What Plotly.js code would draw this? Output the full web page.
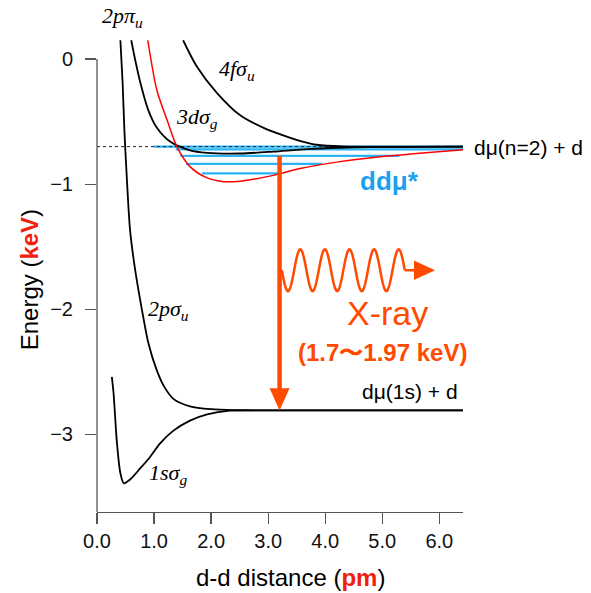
<!DOCTYPE html>
<html><head><meta charset="utf-8">
<script src="https://cdn.plot.ly/plotly-3.0.1.min.js"></script>
<style>html,body{margin:0;padding:0;background:#fff}#chart{width:591px;height:593px}</style>
</head><body><div id="chart"></div>
<script>
// ---- data ----
const xTicks = [0, 1, 2, 3, 4, 5, 6];
const yTicks = [0, -1, -2, -3];

const s1g_x = [0.26,0.29,0.35,0.41,0.47,0.58,0.76,0.93,1.11,1.34,1.63,1.93,2.33,3.0,6.415];
const s1g_y = [-2.54,-2.67,-3.07,-3.31,-3.39,-3.36,-3.27,-3.18,-3.07,-2.97,-2.89,-2.84,-2.81,-2.808,-2.808];

const s2u_x = [0.41,0.45,0.48,0.525,0.58,0.67,0.79,0.90,1.05,1.18,1.35,1.63,2.0,2.4,3.0,6.415];
const s2u_y = [0.15,-0.2,-0.57,-0.97,-1.37,-1.69,-2.01,-2.27,-2.49,-2.62,-2.72,-2.775,-2.798,-2.806,-2.808,-2.808];

const d3g_x = [0.60,0.68,0.76,0.90,1.05,1.28,1.63,1.93,2.51,3.09,3.68,4.5,6.415];
const d3g_y = [0.15,-0.03,-0.19,-0.41,-0.55,-0.66,-0.73,-0.75,-0.755,-0.74,-0.72,-0.705,-0.70];

const f4u_x = [1.51,1.75,2.10,2.51,2.92,3.39,3.6,3.85,4.3,6.415];
const f4u_y = [0.15,-0.06,-0.27,-0.45,-0.55,-0.63,-0.66,-0.685,-0.698,-0.70];

const ddmu_x = [0.89,1.05,1.23,1.40,1.63,1.93,2.22,2.51,3.09,3.56,4.26,5.0,5.6,6.415];
const ddmu_y = [0.15,-0.25,-0.49,-0.70,-0.86,-0.95,-0.98,-0.976,-0.93,-0.875,-0.82,-0.78,-0.755,-0.725];

const levelE  = [-0.700, -0.722, -0.774, -0.838, -0.914];
const levelXL = [0.99, 1.38, 1.46, 1.56, 1.84];
const levelXR = [6.415, 6.415, 5.3, 3.95, 3.21];

const n2Level = -0.70;
const s1Level = -2.808;
const xrayX = 3.20, xrayTop = -0.774;

// ---- styling ----
const ORANGE = '#ff4a00', BLUE = '#2ab4f6', RED = '#f0200f';
const xRange = [0, 6.415], yRange = [-3.62, 0.152];

const traces = [];
levelE.forEach((e, i) => {
  traces.push({x: [levelXL[i], levelXR[i]], y: [e, e], mode: 'lines',
    line: {color: BLUE, width: 2.4}, hoverinfo: 'skip'});
});
traces.push({x: [xRange[0], xRange[1]], y: [n2Level, n2Level], mode: 'lines',
  line: {color: '#222', width: 1, dash: '3px,3px'}});
const blk = {color: '#000', width: 1.8, shape: 'spline', smoothing: 0.8};
traces.push({x: s1g_x, y: s1g_y, mode: 'lines', line: blk});
traces.push({x: s2u_x, y: s2u_y, mode: 'lines', line: blk});
traces.push({x: d3g_x, y: d3g_y, mode: 'lines', line: blk});
traces.push({x: f4u_x, y: f4u_y, mode: 'lines', line: blk});
traces.push({x: ddmu_x, y: ddmu_y, mode: 'lines', line: {color: '#ff0000', width: 1.5, shape: 'spline', smoothing: 0.8}});

// photon wave decoration (5 periods)
const waveX0 = 3.24, wavePeriod = 0.431, waveAmp = 0.167, waveC = -1.688;
let wp = 'M ' + waveX0 + ',' + waveC;
for (let k = 1; k <= 200; k++) {
  const t = k / 200 * 5;
  wp += ' L ' + (waveX0 + t * wavePeriod).toFixed(4) + ',' + (waveC - waveAmp * Math.sin(2 * Math.PI * t)).toFixed(4);
}
const waveEnd = waveX0 + 5 * wavePeriod;

const shapes = [
  {type: 'line', xref: 'paper', yref: 'paper', x0: 0, x1: 0,
   y0: (0 - yRange[0]) / (yRange[1] - yRange[0]), y1: 0, line: {color: '#555', width: 1.3}},
  {type: 'line', xref: 'x', yref: 'y', x0: xrayX, x1: xrayX, y0: xrayTop, y1: s1Level + 0.16,
   line: {color: ORANGE, width: 4.5}},
  {type: 'path', xref: 'x', yref: 'y', path: `M ${xrayX-0.175},${s1Level+0.176} L ${xrayX+0.175},${s1Level+0.176} L ${xrayX},${s1Level} Z`,
   fillcolor: ORANGE, line: {width: 0}},
  {type: 'path', xref: 'x', yref: 'y', path: wp, line: {color: ORANGE, width: 2.5}},
  {type: 'line', xref: 'x', yref: 'y', x0: waveEnd, x1: waveEnd + 0.2, y0: waveC, y1: waveC, line: {color: ORANGE, width: 2.5}},
  {type: 'path', xref: 'x', yref: 'y', path: `M ${waveEnd+0.16},${waveC+0.077} L ${waveEnd+0.16},${waveC-0.077} L ${waveEnd+0.53},${waveC} Z`,
   fillcolor: ORANGE, line: {width: 0}}
];

const serif = {family: 'Liberation Serif, Times New Roman, serif', size: 22, color: '#000'};
const sans = {family: 'Liberation Sans, Arial, Helvetica, sans-serif', size: 21, color: '#000'};
const ann = (x, y, text, font, extra) => Object.assign({x, y, xref: 'x', yref: 'y', text, font, showarrow: false, xanchor: 'center', yanchor: 'middle'}, extra || {});
const pann = (x, y, text, font, extra) => Object.assign({x, y, xref: 'paper', yref: 'paper', text, font, showarrow: false, xanchor: 'center', yanchor: 'middle'}, extra || {});
const annotations = [
  pann(0.071, 1.049, '<i>2pπ<sub>u</sub></i>', serif),
  ann(2.46, -0.088, '<i>4fσ<sub>u</sub></i>', serif),
  ann(1.76, -0.472, '<i>3dσ<sub>g</sub></i>', serif),
  ann(1.25, -2.008, '<i>2pσ<sub>u</sub></i>', serif),
  ann(1.25, -3.32, '<i>1sσ<sub>g</sub></i>', serif),
  pann(1.1776, 0.7733, 'dμ(n=2) + d', sans),
  ann(5.49, -2.656, 'dμ(1s) + d', sans),
  ann(5.12, -0.976, '<b>ddμ*</b>', Object.assign({}, sans, {size: 26, color: '#1ea0f0'})),
  ann(5.10, -2.032, 'X-ray', Object.assign({}, sans, {size: 34, color: ORANGE})),
  ann(5.0, -2.344, '<b>(1.7〜1.97 keV)</b>', Object.assign({}, sans, {size: 24, color: ORANGE})),
  pann(0.530, -0.1398, 'd-d distance (<b><span style="color:' + RED + '">pm</span></b>)', Object.assign({}, sans, {size: 24})),
  pann(-0.185, 0.4915, 'Energy (<b><span style="color:' + RED + '">keV</span></b>)', Object.assign({}, sans, {size: 24}), {textangle: -90})
];

const layout = {
  width: 591, height: 593,
  margin: {l: 97, r: 128, t: 40, b: 81, pad: 0},
  paper_bgcolor: '#fff', plot_bgcolor: '#fff',
  showlegend: false,
  font: sans,
  xaxis: {range: xRange, tickvals: xTicks, tickformat: '.1f', showgrid: false, zeroline: false,
    showline: true, linecolor: '#555', linewidth: 1.3, ticks: 'outside', ticklen: 11, tickwidth: 1.3, tickcolor: '#555',
    tickfont: {family: sans.family, size: 20, color: '#111'}, ticklabelstandoff: 0, fixedrange: true},
  yaxis: {range: yRange, tickvals: yTicks, showgrid: false, zeroline: false, showline: false,
    ticks: 'outside', ticklen: 11, tickwidth: 1.3, tickcolor: '#555',
    tickfont: {family: sans.family, size: 20, color: '#111'}, ticklabelstandoff: 8, fixedrange: true},
  shapes, annotations
};
Plotly.newPlot('chart', traces, layout, {staticPlot: true, displayModeBar: false});
</script></body></html>
